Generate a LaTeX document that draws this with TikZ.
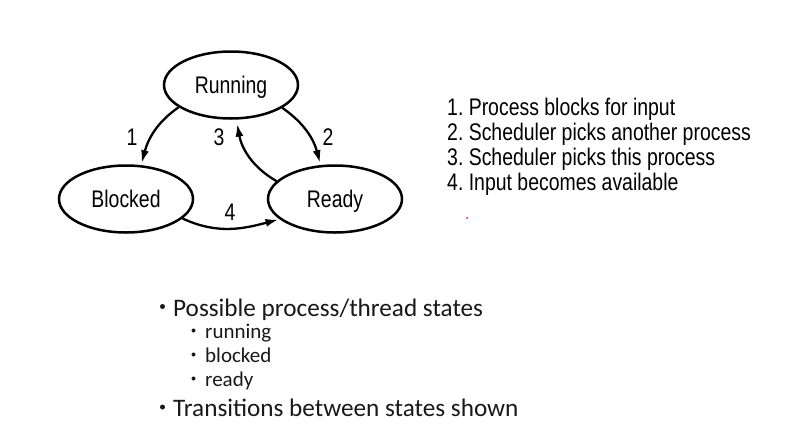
\documentclass[tikz,border=0pt]{standalone}
\usepackage{fontspec}
\setmainfont{Carlito}
\newfontfamily\figfont[FakeStretch=0.81]{Liberation Sans}
\usetikzlibrary{arrows.meta,shapes.geometric}
\frenchspacing
\begin{document}
\begin{tikzpicture}[x=1pt,y=1pt,
  figtext/.style={font=\figfont\fontsize{24}{24}\selectfont},
  state/.style={draw, line width=2.5pt, ellipse, minimum width=134pt, minimum height=67pt, inner sep=0pt, figtext, text height=17pt, text depth=0pt},
  trans/.style={line width=2.3pt, -{Latex[length=13pt,width=8pt]}},
  num/.style={figtext, inner sep=0pt, text height=17pt, text depth=0pt},
  listline/.style={figtext, anchor=base west, inner sep=0pt},
  dot/.style={circle, fill=black!90, draw=none, inner sep=0pt, minimum size=#1},
  mainitem/.style={font=\fontsize{25.2}{25.2}\selectfont, anchor=base west, inner sep=0pt, text=black!90},
  subitem/.style={font=\fontsize{21}{21}\selectfont, anchor=base west, inner sep=0pt, text=black!90}]
\useasboundingbox[fill=white] (0,0) rectangle (786,-442);

% states
\node[state] (run) at (231,-85) {Running};
\node[state] (blk) at (126,-199) {Blocked};
\node[state] (rdy) at (335,-199) {Ready};

% transitions
\draw[trans, shorten >=2pt] (run.203) to[out=215,in=75] (blk.66);
\draw[trans, shorten >=2pt] (run.336) to[out=-35,in=105] (rdy.113);
\draw[trans, shorten >=4pt] (rdy.163) to[out=150,in=-80] (run.279);
\draw[trans, shorten >=1pt] (blk.341) to[out=-25,in=195] (rdy.200);

% numbers
\node[num] (n1) at (132,-137) {1};
\node[num] (n2) at (328,-137) {2};
\node[num] (n3) at (219,-137) {3};
\node[num] (n4) at (230,-212) {4};

% legend
\node[listline] (l1) at (447,-115) {1. Process blocks for input};
\node[listline] (l2) at (447,-140) {2. Scheduler picks another process};
\node[listline] (l3) at (447,-165) {3. Scheduler picks this process};
\node[listline] (l4) at (447,-190) {4. Input becomes available};

% small red mark
\fill[red!75!magenta] (467,-218) circle (1pt);

% bullets
\node[dot=5pt] (b1) at (162.5,-306.5) {};
\node[mainitem] (t1) at (173,-316) {Possible process/thread states};
\node[dot=4pt] (b2) at (193.5,-330.5) {};
\node[subitem] (t2) at (205,-338.5) {running};
\node[dot=4pt] (b3) at (193.5,-354.5) {};
\node[subitem] (t3) at (205,-362.5) {blocked};
\node[dot=4pt] (b4) at (193.5,-378.5) {};
\node[subitem] (t4) at (205,-386.5) {ready};
\node[dot=5pt] (b5) at (162.5,-407) {};
\node[mainitem] (t5) at (173,-416) {Transitions between states shown};
\end{tikzpicture}
\end{document}
